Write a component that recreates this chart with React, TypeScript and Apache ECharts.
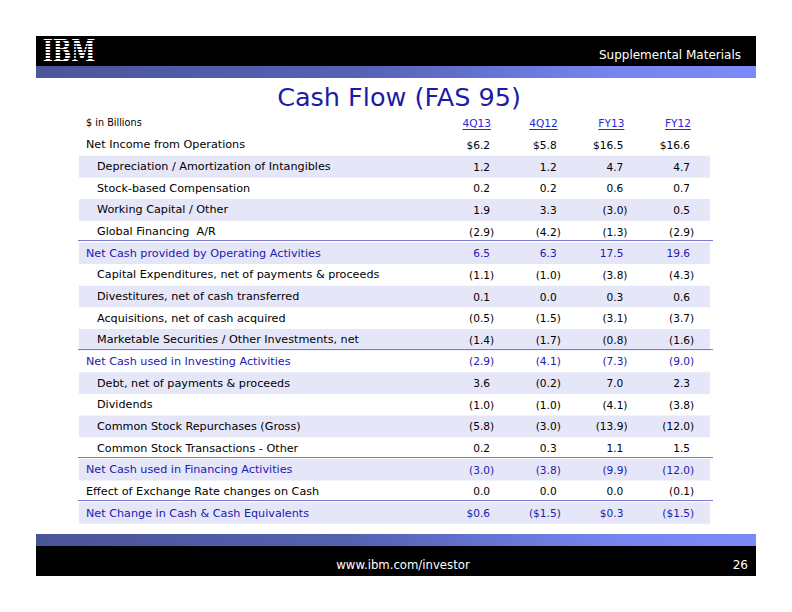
import React, { useEffect, useRef } from "react";
import * as echarts from "echarts";

const unitLabel = "$ in Billions";
const periods = ["4Q13", "4Q12", "FY13", "FY12"];
const rowLabels = [
  "Net Income from Operations",
  "Depreciation / Amortization of Intangibles",
  "Stock-based Compensation",
  "Working Capital / Other",
  "Global Financing  A/R",
  "Net Cash provided by Operating Activities",
  "Capital Expenditures, net of payments & proceeds",
  "Divestitures, net of cash transferred",
  "Acquisitions, net of cash acquired",
  "Marketable Securities / Other Investments, net",
  "Net Cash used in Investing Activities",
  "Debt, net of payments & proceeds",
  "Dividends",
  "Common Stock Repurchases (Gross)",
  "Common Stock Transactions - Other",
  "Net Cash used in Financing Activities",
  "Effect of Exchange Rate changes on Cash",
  "Net Change in Cash & Cash Equivalents",
];
// main = top-level black, sub = indented black, total = blue with rule above
const rowKinds = [
  "main", "sub", "sub", "sub", "sub", "total",
  "sub", "sub", "sub", "sub", "total",
  "sub", "sub", "sub", "sub", "total",
  "main", "total",
];
const values4Q13 = ["$6.2", "1.2", "0.2", "1.9", "(2.9)", "6.5", "(1.1)", "0.1", "(0.5)", "(1.4)", "(2.9)", "3.6", "(1.0)", "(5.8)", "0.2", "(3.0)", "0.0", "$0.6"];
const values4Q12 = ["$5.8", "1.2", "0.2", "3.3", "(4.2)", "6.3", "(1.0)", "0.0", "(1.5)", "(1.7)", "(4.1)", "(0.2)", "(1.0)", "(3.0)", "0.3", "(3.8)", "0.0", "($1.5)"];
const valuesFY13 = ["$16.5", "4.7", "0.6", "(3.0)", "(1.3)", "17.5", "(3.8)", "0.3", "(3.1)", "(0.8)", "(7.3)", "7.0", "(4.1)", "(13.9)", "1.1", "(9.9)", "0.0", "$0.3"];
const valuesFY12 = ["$16.6", "4.7", "0.7", "0.5", "(2.9)", "19.6", "(4.3)", "0.6", "(3.7)", "(1.6)", "(9.0)", "2.3", "(3.8)", "(12.0)", "1.5", "(12.0)", "(0.1)", "($1.5)"];
const columns = [values4Q13, values4Q12, valuesFY13, valuesFY12];

const FONT = "DejaVu Sans";
const BLUE = "#2020b0";
const LINK = "#2a2ad0";
const SHADE = "#e6e6f9";
const RULE = "#7c7cd8";

function measure(text: string, size: number): number {
  const c = document.createElement("canvas").getContext("2d");
  if (!c) return text.length * size * 0.6;
  c.font = `${size}px "${FONT}"`;
  return c.measureText(text).width;
}

export default function App() {
  const ref = useRef<HTMLDivElement>(null);
  useEffect(() => {
    if (!ref.current) return;
    const chart = echarts.init(ref.current, undefined, { renderer: "svg" });
    const yCats = ["header", ...rowLabels];
    const gridTop = 112.5;
    const gridHeight = 21.65 * yCats.length;

    const rowData = yCats.map((_, i) => [0, i]);
    const cellData: number[][] = [];
    periods.forEach((_, c) => {
      yCats.forEach((_, r) => cellData.push([c, r]));
    });

    const numSize = 10.6;
    const labSize = 11.2;
    const parenW = measure(")", numSize);

    const logoChildren: any[] = [
      {
        type: "text", x: 69, y: 0, scaleX: 0.68, z: 101,
        style: {
          text: "IBM", x: 0, y: 50.5, fill: "#ffffff",
          fontSize: 32, fontWeight: "bold", fontFamily: "DejaVu Serif",
          align: "center", verticalAlign: "middle",
          textAlign: "center", textVerticalAlign: "middle",
        },
      },
    ];
    for (let k = 0; k < 8; k++) {
      const y = 38 + k * 3 + 2.5;
      logoChildren.push({
        type: "line",
        z: 105,
        shape: { x1: 36, y1: y, x2: 104, y2: y },
        style: { stroke: "#000000", lineWidth: 1 },
      });
    }

    const bandGradient = (dark: string) =>
      new echarts.graphic.LinearGradient(0, 0, 1, 0, [
        { offset: 0, color: dark },
        { offset: 0.45, color: "#5562b4" },
        { offset: 0.8, color: "#7585ef" },
        { offset: 1, color: "#7a8af8" },
      ]);

    chart.setOption({
      animation: false,
      backgroundColor: "#ffffff",
      grid: [
        { left: 78, width: 634, top: gridTop, height: gridHeight },
        { left: 456.7, width: 266.7, top: gridTop, height: gridHeight },
      ],
      xAxis: [
        { type: "value", gridIndex: 0, min: 0, max: 1, show: false },
        { type: "category", gridIndex: 1, data: periods, show: false },
      ],
      yAxis: [
        { type: "category", gridIndex: 0, data: yCats, inverse: true, show: false },
        { type: "category", gridIndex: 1, data: yCats, inverse: true, show: false },
      ],
      series: [
        {
          type: "custom",
          xAxisIndex: 0,
          yAxisIndex: 0,
          data: rowData,
          silent: true,
          renderItem: (params: any, api: any) => {
            const i = api.value(1);
            const cs = params.coordSys;
            const c = api.coord([0, i]);
            const h = api.size([0, 1])[1];
            const top = c[1] - h / 2;
            const children: any[] = [];
            if (i === 0) {
              children.push({
                type: "text",
                style: {
                  text: unitLabel, x: cs.x + 8, y: c[1] - 1,
                  fill: "#000", fontSize: 9.7, fontFamily: FONT,
                  align: "left", verticalAlign: "middle",
                  textAlign: "left", textVerticalAlign: "middle",
                },
              });
              return { type: "group", children };
            }
            const r = i - 1;
            const kind = rowKinds[r];
            if (r % 2 === 1) {
              children.push({
                type: "rect",
                shape: { x: cs.x + 1, y: top, width: cs.width - 3, height: h },
                style: { fill: SHADE },
              });
            }
            if (kind === "total") {
              const ly = Math.round(top - 2) + 0.5;
              children.push({
                type: "line",
                shape: { x1: cs.x, y1: ly, x2: cs.x + cs.width + 1, y2: ly },
                style: { stroke: RULE, lineWidth: 1 },
              });
            }
            children.push({
              type: "text",
              style: {
                text: rowLabels[r],
                x: cs.x + (kind === "sub" ? 19 : 8),
                y: c[1],
                fill: kind === "total" ? BLUE : "#000",
                fontSize: labSize, fontFamily: FONT,
                align: "left", verticalAlign: "middle",
                textAlign: "left", textVerticalAlign: "middle",
              },
            });
            return { type: "group", children };
          },
        },
        {
          type: "custom",
          xAxisIndex: 1,
          yAxisIndex: 1,
          data: cellData,
          silent: true,
          z: 3,
          renderItem: (params: any, api: any) => {
            const col = api.value(0);
            const i = api.value(1);
            const c = api.coord([col, i]);
            if (i === 0) {
              const t = periods[col];
              const w = measure(t, numSize);
              return {
                type: "group",
                children: [
                  {
                    type: "text",
                    style: {
                      text: t, x: c[0] + 1, y: c[1],
                      fill: LINK, fontSize: numSize, fontFamily: FONT,
                      align: "right", verticalAlign: "middle",
                      textAlign: "right", textVerticalAlign: "middle",
                    },
                  },
                  {
                    type: "line",
                    shape: { x1: c[0] + 1 - w, y1: Math.round(c[1] + 6) + 0.5, x2: c[0] + 1, y2: Math.round(c[1] + 6) + 0.5 },
                    style: { stroke: LINK, lineWidth: 1 },
                  },
                ],
              };
            }
            const r = i - 1;
            const txt = columns[col][r];
            const hang = txt.endsWith(")") ? parenW : 0;
            return {
              type: "text",
              style: {
                text: txt, x: c[0] + hang, y: c[1],
                fill: rowKinds[r] === "total" ? BLUE : "#000",
                fontSize: numSize, fontFamily: FONT,
                align: "right", verticalAlign: "middle",
                textAlign: "right", textVerticalAlign: "middle",
              },
            };
          },
        },
      ],
      graphic: [
        { type: "rect", shape: { x: 36, y: 36, width: 720, height: 30 }, style: { fill: "#000" }, z: 100 },
        { type: "rect", shape: { x: 36, y: 66, width: 720, height: 12 }, style: { fill: bandGradient("#4c569c") }, z: 100 },
        { type: "group", children: logoChildren },
        {
          type: "text", z: 101,
          style: {
            text: "Supplemental Materials", x: 741, y: 55, fill: "#fff",
            fontSize: 12, fontFamily: FONT,
            align: "right", verticalAlign: "middle",
            textAlign: "right", textVerticalAlign: "middle",
          },
        },
        {
          type: "text", z: 101,
          style: {
            text: "Cash Flow (FAS 95)", x: 399, y: 97, fill: "#1c1ca4",
            fontSize: 25.5, fontFamily: FONT,
            align: "center", verticalAlign: "middle",
            textAlign: "center", textVerticalAlign: "middle",
          },
        },
        { type: "rect", shape: { x: 36, y: 534, width: 720, height: 12 }, style: { fill: bandGradient("#4a5499") }, z: 100 },
        { type: "rect", shape: { x: 36, y: 546, width: 720, height: 30 }, style: { fill: "#000" }, z: 100 },
        {
          type: "text", z: 101,
          style: {
            text: "www.ibm.com/investor", x: 403, y: 565, fill: "#fff",
            fontSize: 11.7, fontFamily: FONT,
            align: "center", verticalAlign: "middle",
            textAlign: "center", textVerticalAlign: "middle",
          },
        },
        {
          type: "text", z: 101,
          style: {
            text: "26", x: 748, y: 565, fill: "#fff",
            fontSize: 12, fontFamily: FONT,
            align: "right", verticalAlign: "middle",
            textAlign: "right", textVerticalAlign: "middle",
          },
        },
      ],
    });
    return () => chart.dispose();
  }, []);
  return (
    <div
      ref={ref}
      style={{ position: "fixed", left: 0, top: 0, width: 792, height: 612, background: "#fff" }}
    />
  );
}
